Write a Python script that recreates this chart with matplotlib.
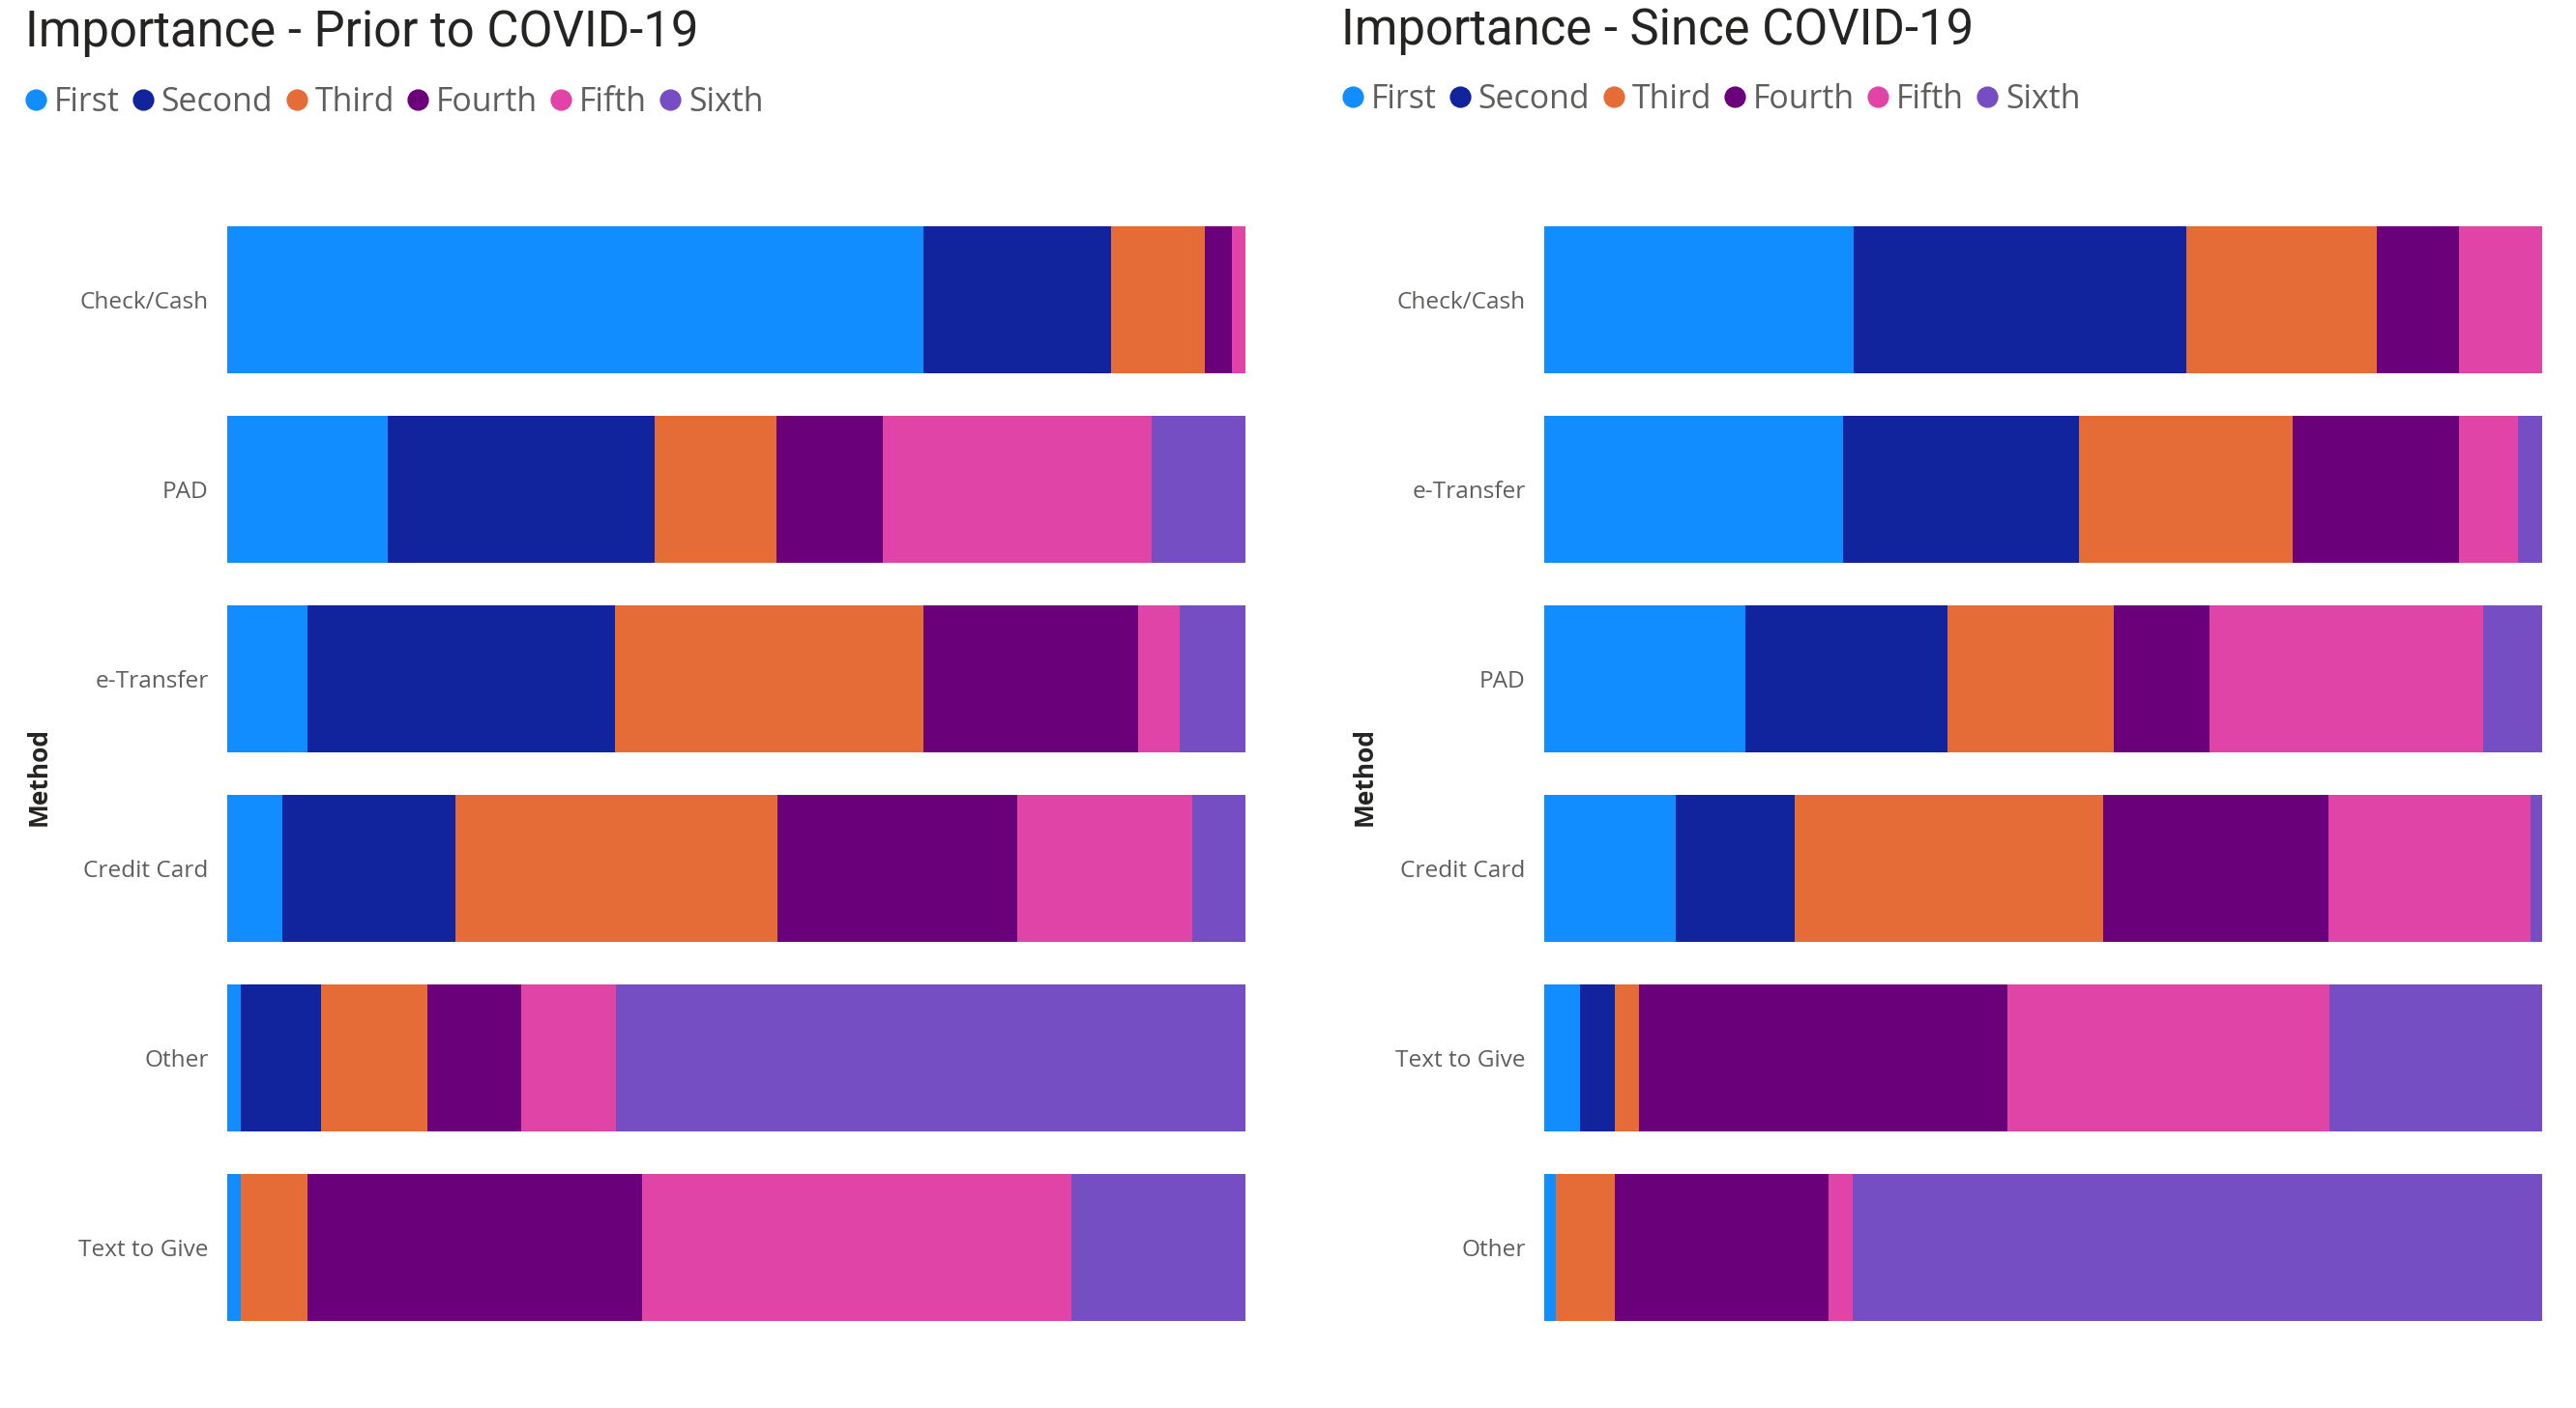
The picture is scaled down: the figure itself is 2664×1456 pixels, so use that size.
import matplotlib
matplotlib.use("Agg")
import matplotlib.pyplot as plt
from matplotlib import font_manager
from matplotlib.lines import Line2D
import numpy as np

# ---------------- data ----------------
ranks = ["First", "Second", "Third", "Fourth", "Fifth", "Sixth"]
colors = ["#118DFF", "#12239E", "#E66C37", "#6B007B", "#E044A7", "#744EC2"]

prior_methods = ["Check/Cash", "PAD", "e-Transfer", "Credit Card", "Other", "Text to Give"]
prior_first  = [68.4, 15.8,  7.9,  5.4,  1.3,  1.3]
prior_second = [18.4, 26.2, 30.2, 17.0,  7.9,  0.0]
prior_third  = [ 9.2, 11.9, 30.3, 31.6, 10.5,  6.6]
prior_fourth = [ 2.7, 10.5, 21.1, 23.6,  9.2, 32.8]
prior_fifth  = [ 1.3, 26.4,  4.0, 17.2,  9.3, 42.2]
prior_sixth  = [ 0.0,  9.2,  6.5,  5.2, 61.8, 17.1]

since_methods = ["Check/Cash", "e-Transfer", "PAD", "Credit Card", "Text to Give", "Other"]
since_first  = [31.0, 29.9, 20.2, 13.2,  3.6,  1.2]
since_second = [33.3, 23.7, 20.2, 11.9,  3.5,  0.0]
since_third  = [19.1, 21.4, 16.7, 30.9,  2.4,  5.9]
since_fourth = [ 8.3, 16.7,  9.6, 22.6, 36.9, 21.4]
since_fifth  = [ 8.3,  5.9, 27.4, 20.2, 32.3,  2.4]
since_sixth  = [ 0.0,  2.4,  5.9,  1.2, 21.3, 69.1]

# ---------------- fonts ----------------
avail = {f.name for f in font_manager.fontManager.ttflist}
def pick(*names):
    for n in names:
        if n in avail:
            return n
    return "DejaVu Sans"
title_font = pick("Roboto", "DejaVu Sans")
label_font = pick("Open Sans", "Noto Sans", "DejaVu Sans")

W, H = 2664, 1456
DPI = 200
fig = plt.figure(figsize=(W / DPI, H / DPI), dpi=DPI)

def px(x, y):
    return x / W, 1 - y / H

def draw(xl, xr, title, title_xy, legend_xy, method_xy, methods, series):
    bot = 1 - 1388 / H
    top = 1 - 212 / H
    ax = fig.add_axes([xl / W, bot, (xr - xl) / W, top - bot])
    y = np.arange(len(methods))
    left = np.zeros(len(methods))
    for vals, c in zip(series, colors):
        vals = np.array(vals)
        ax.barh(y, vals, left=left, height=0.7755, color=c, linewidth=0)
        left += vals
    ax.set_xlim(0, 100)
    ax.set_ylim(len(methods) - 0.5, -0.5)
    ax.set_yticks(y)
    ax.set_yticklabels(methods, fontsize=8.8, color="#605E5C", family=label_font)
    ax.tick_params(axis="y", length=0, pad=7)
    ax.set_xticks([])
    for s in ax.spines.values():
        s.set_visible(False)

    tx, ty = px(*title_xy)
    fig.text(tx, ty, title, fontsize=18.3, family=title_font, color="#252423",
             ha="left", va="baseline")
    mx, my = px(*method_xy)
    fig.text(mx, my, "Method", rotation=90, fontsize=9.5, fontweight="bold",
             color="#252423", ha="center", va="center", family=label_font)
    handles = [Line2D([0], [0], marker="o", linestyle="none", markersize=7,
                      markerfacecolor=c, markeredgecolor=c) for c in colors]
    lx, ly = px(*legend_xy)
    leg = fig.legend(handles, ranks, loc="center left", bbox_to_anchor=(lx, ly),
                     ncol=6, frameon=False, handletextpad=0.25, columnspacing=0.42,
                     handlelength=0.6, borderaxespad=0, borderpad=0,
                     prop={"family": label_font, "size": 12.2})
    for t in leg.get_texts():
        t.set_color("#605E5C")
    return ax

prior_series = [prior_first, prior_second, prior_third, prior_fourth, prior_fifth, prior_sixth]
since_series = [since_first, since_second, since_third, since_fourth, since_fifth, since_sixth]

draw(235, 1288, "Importance - Prior to COVID-19",
     (26, 48), (27, 106), (40, 803), prior_methods, prior_series)
draw(1597, 2629, "Importance - Since COVID-19",
     (1387, 46), (1389, 103), (1411, 803), since_methods, since_series)

fig.savefig("out.png", dpi=DPI, facecolor="white")
